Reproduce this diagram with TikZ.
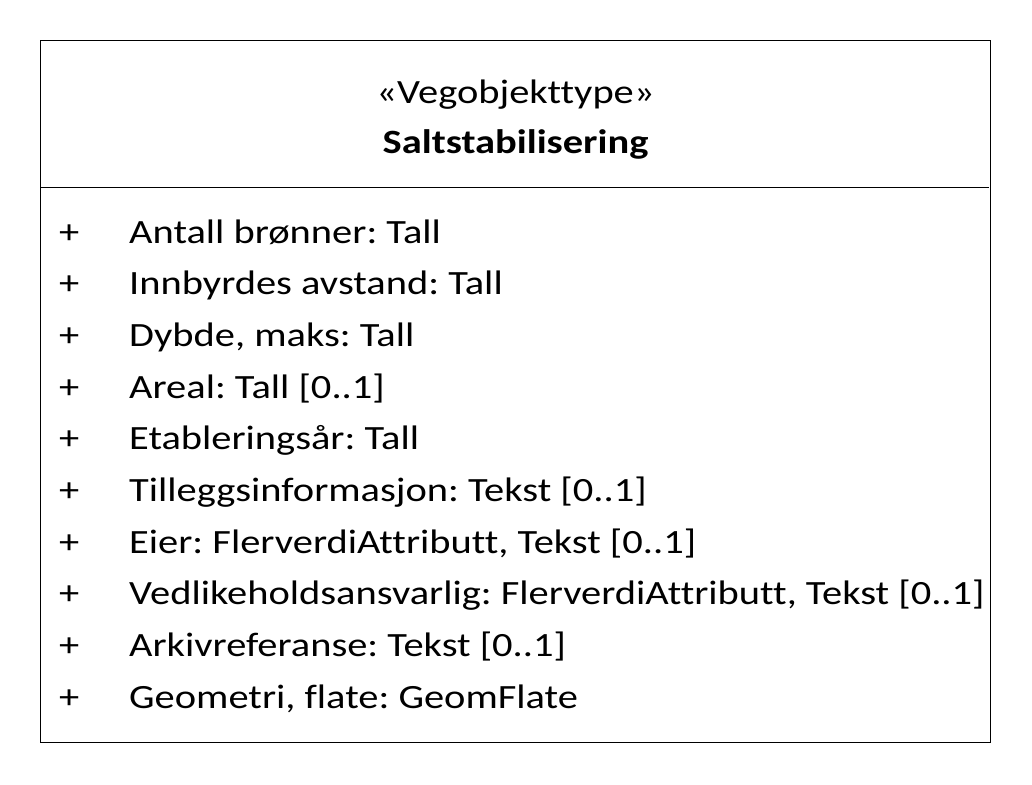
\documentclass[tikz,border=0pt]{standalone}
\usepackage{fontspec}
\setmainfont{Carlito}[Ligatures={NoCommon},FakeStretch=1.19]
\begin{document}
\frenchspacing
\begin{tikzpicture}[x=1pt,y=-1pt,
  frame/.style={draw=black,line width=1.4pt},
  attr/.style={anchor=base west,inner sep=0pt,font=\fontsize{34}{40}\selectfont},
  head/.style={anchor=base,inner sep=0pt,font=\fontsize{34}{40}\selectfont}]
  \useasboundingbox (0,0) rectangle (1032,784);
  % class box and compartment divider
  \draw[frame] (40.5,40.5) rectangle (990.5,742.5);
  \coordinate (dl) at (40.5,187.5);
  \coordinate (dr) at (988.5,187.5);
  \draw[frame] (dl) -- (dr);
  % header
  \node[head] (stereo) at (515.5,103) {«Vegobjekttype»};
  \node[head,font=\fontsize{34}{40}\selectfont\bfseries] (name) at (515.5,153) {Saltstabilisering};
  % attributes
  \foreach \i/\t in {0/{Antall brønner: Tall},
                     1/{Innbyrdes avstand: Tall},
                     2/{Dybde, maks: Tall},
                     3/{Areal: Tall [0..1]},
                     4/{Etableringsår: Tall},
                     5/{Tilleggsinformasjon: Tekst [0..1]},
                     6/{Eier: FlerverdiAttributt, Tekst [0..1]},
                     7/{Vedlikeholdsansvarlig: FlerverdiAttributt, Tekst [0..1]},
                     8/{Arkivreferanse: Tekst [0..1]},
                     9/{Geometri, flate: GeomFlate}} {
    \node[attr] (vis\i) at (59,243+51.67*\i) {+};
    \node[attr] (attr\i) at (129,243+51.67*\i) {\t};
  }
\end{tikzpicture}
\end{document}
